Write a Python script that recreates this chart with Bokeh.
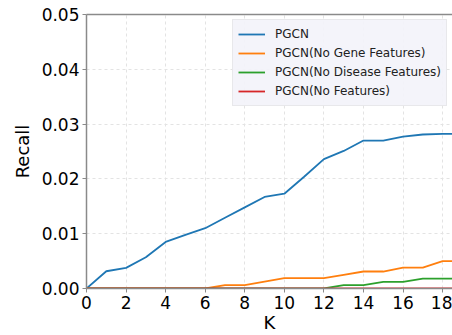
from bokeh.plotting import figure
from bokeh.models import Range1d, LinearAxis, FixedTicker, Legend, LegendItem, PrintfTickFormatter
from bokeh.embed import file_html
from bokeh.resources import INLINE

K = list(range(20))
pgcn = [0.0, 0.00315, 0.00376, 0.0057, 0.0085, 0.0098, 0.0110, 0.0129, 0.0148, 0.0167,
        0.0173, 0.0204, 0.0236, 0.0251, 0.0270, 0.0270, 0.0277, 0.0281, 0.0282, 0.0282]
no_gene = [0.0, 0.0, 0.0, 0.0, 0.0, 0.0, 0.0, 0.0006, 0.0006, 0.00125,
           0.0019, 0.0019, 0.0019, 0.0025, 0.0031, 0.0031, 0.0038, 0.0038, 0.0050, 0.0050]
no_disease = [0.0] * 13 + [0.0006, 0.0006, 0.0012, 0.0012, 0.0018, 0.0018, 0.0018]
no_feat = [0.0] * 20

series_names = ["PGCN", "PGCN(No Gene Features)", "PGCN(No Disease Features)", "PGCN(No Features)"]
series_vals = [pgcn, no_gene, no_disease, no_feat]
colors = ["#1f77b4", "#ff7f0e", "#2ca02c", "#d62728"]
x_ticks = list(range(0, 20, 2))
y_ticks = [0.0, 0.01, 0.02, 0.03, 0.04, 0.05]

FONT = "DejaVu Sans"
SPINE = "#8a8a8a"

p = figure(width=452, height=335, output_backend="svg", toolbar_location=None,
           x_range=Range1d(0, 18.5), y_range=Range1d(0, 0.05),
           min_border_left=86, min_border_right=0, min_border_top=14, min_border_bottom=46)
p.outline_line_color = None
p.background_fill_color = "white"
p.border_fill_color = "white"

items = []
for name, vals, c in zip(series_names, series_vals, colors):
    r = p.line(K, vals, line_color=c, line_width=1.8)
    items.append(LegendItem(label=name, renderers=[r]))

for ax in (p.xaxis[0], p.yaxis[0]):
    ax.axis_line_color = SPINE
    ax.axis_line_width = 1.5
    ax.major_tick_line_color = SPINE
    ax.major_tick_out = 4
    ax.major_tick_in = 0
    ax.minor_tick_out = 0
    ax.minor_tick_in = 0
    ax.major_label_text_font = FONT
    ax.major_label_text_font_size = "17px"
    ax.major_label_text_color = "black"
    ax.axis_label_text_font = FONT
    ax.axis_label_text_font_size = "18px"
    ax.axis_label_text_font_style = "normal"
    ax.axis_label_text_color = "black"

p.xaxis.ticker = FixedTicker(ticks=x_ticks)
p.yaxis.ticker = FixedTicker(ticks=y_ticks)
p.yaxis.formatter = PrintfTickFormatter(format="%.2f")
p.xaxis.axis_label = "K"
p.yaxis.axis_label = "Recall"
p.xaxis.major_label_standoff = 3
p.xaxis.axis_label_standoff = 0
p.yaxis.major_label_standoff = 3
p.yaxis.axis_label_standoff = 6

top = LinearAxis(ticker=FixedTicker(ticks=[]), axis_line_color=SPINE, axis_line_width=1.5,
                 major_tick_out=0, minor_tick_out=0, major_label_text_font_size="0px",
                 major_label_standoff=0)
p.add_layout(top, "above")

p.xgrid.grid_line_color = "#e3e3e3"
p.ygrid.grid_line_color = "#e3e3e3"
p.xgrid.grid_line_dash = "3 3"
p.ygrid.grid_line_dash = "3 3"

legend = Legend(items=items, location="top_right", margin=5, padding=5, spacing=1,
                glyph_width=27, glyph_height=18, label_height=18, label_standoff=10,
                label_text_font=FONT, label_text_font_size="12px", label_text_color="#222222",
                background_fill_color="#f3f3fa", background_fill_alpha=0.9,
                border_line_color="#dcdcdc", border_line_width=1)
p.add_layout(legend)

open("out.html", "w").write(file_html(p, INLINE))
